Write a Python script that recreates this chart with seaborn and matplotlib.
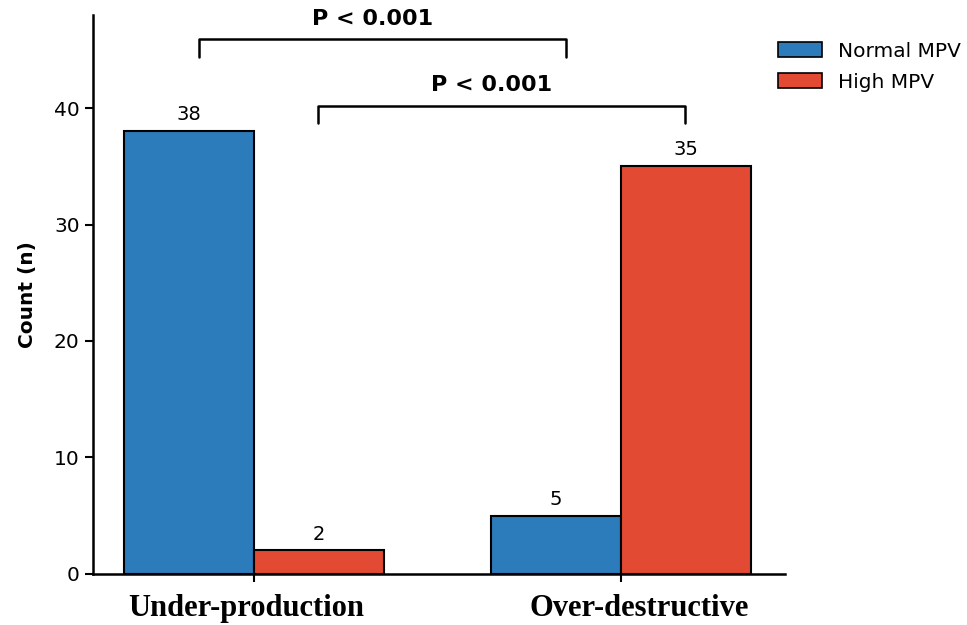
import pandas as pd
import matplotlib
matplotlib.use('Agg')
import matplotlib.pyplot as plt
import matplotlib.transforms as mtransforms
import seaborn as sns

# data
categories = ['Under-production', 'Over-destructive']
groups = ['Normal MPV', 'High MPV']
normal_counts = [38, 5]
high_counts = [2, 35]
p_labels = ['P < 0.001', 'P < 0.001']

colors = ['#2c7bba', '#e34a33']

df = pd.DataFrame({
    'cause': categories * 2,
    'group': [groups[0]] * len(categories) + [groups[1]] * len(categories),
    'count': normal_counts + high_counts,
})

sns.set_style('ticks')
plt.rcParams['font.family'] = ['DejaVu Sans']
plt.rcParams['text.color'] = 'black'
plt.rcParams['axes.labelcolor'] = 'black'
plt.rcParams['xtick.color'] = 'black'
plt.rcParams['ytick.color'] = 'black'
plt.rcParams['axes.edgecolor'] = 'black'

fig = plt.figure(figsize=(9.67, 6.25), dpi=100)
ax = fig.add_axes([0.096, 0.082, 0.716, 0.894])

sns.barplot(data=df, x='cause', y='count', hue='group', palette=colors, saturation=1,
            edgecolor='black', linewidth=1.5, width=0.71, gap=0, ax=ax)

for cont in ax.containers:
    ax.bar_label(cont, padding=5, fontsize=14, color='black')

# significance brackets
def bracket(x1, x2, y, h, text):
    ax.plot([x1, x1, x2, x2], [y - h, y, y, y - h], color='black', lw=1.8, clip_on=False)
    ax.text((x1 + x2) / 2 - 0.027, y + 0.9, text, ha='center', va='bottom',
            fontsize=16, fontweight='bold', clip_on=False)

bracket(-0.15, 0.85, 45.9, 1.5, p_labels[0])
bracket(0.175, 1.175, 40.2, 1.5, p_labels[1])

ax.set_xlim(-0.439, 1.447)
ax.set_ylim(0, 48)
ax.set_yticks([0, 10, 20, 30, 40])
ax.set_xlabel('')
ax.set_ylabel('Count (n)', fontsize=14.5, fontweight='bold', labelpad=12)
ax.tick_params(axis='y', labelsize=14.5, length=6, width=1.5)
ax.tick_params(axis='x', length=6, width=1.5, labelbottom=False)

# category labels (slightly off-centre in the original)
label_shift = [-0.022, 0.049]
trans = mtransforms.blended_transform_factory(ax.transData, ax.transAxes)
for i, name in enumerate(categories):
    ax.text(i + label_shift[i], -0.037, name, transform=trans, ha='center', va='top',
            fontfamily='Liberation Serif', fontweight='bold', fontsize=22)

sns.despine(ax=ax)
for s in ['left', 'bottom']:
    ax.spines[s].set_linewidth(1.8)

leg = ax.legend(loc='upper left', bbox_to_anchor=(0.963, 0.985), frameon=False,
                fontsize=14.5, handlelength=2.2, handleheight=0.8, labelspacing=0.6)
for h in leg.legend_handles:
    h.set_edgecolor('black')
    h.set_linewidth(1.2)

plt.savefig('out.png', dpi=100)
